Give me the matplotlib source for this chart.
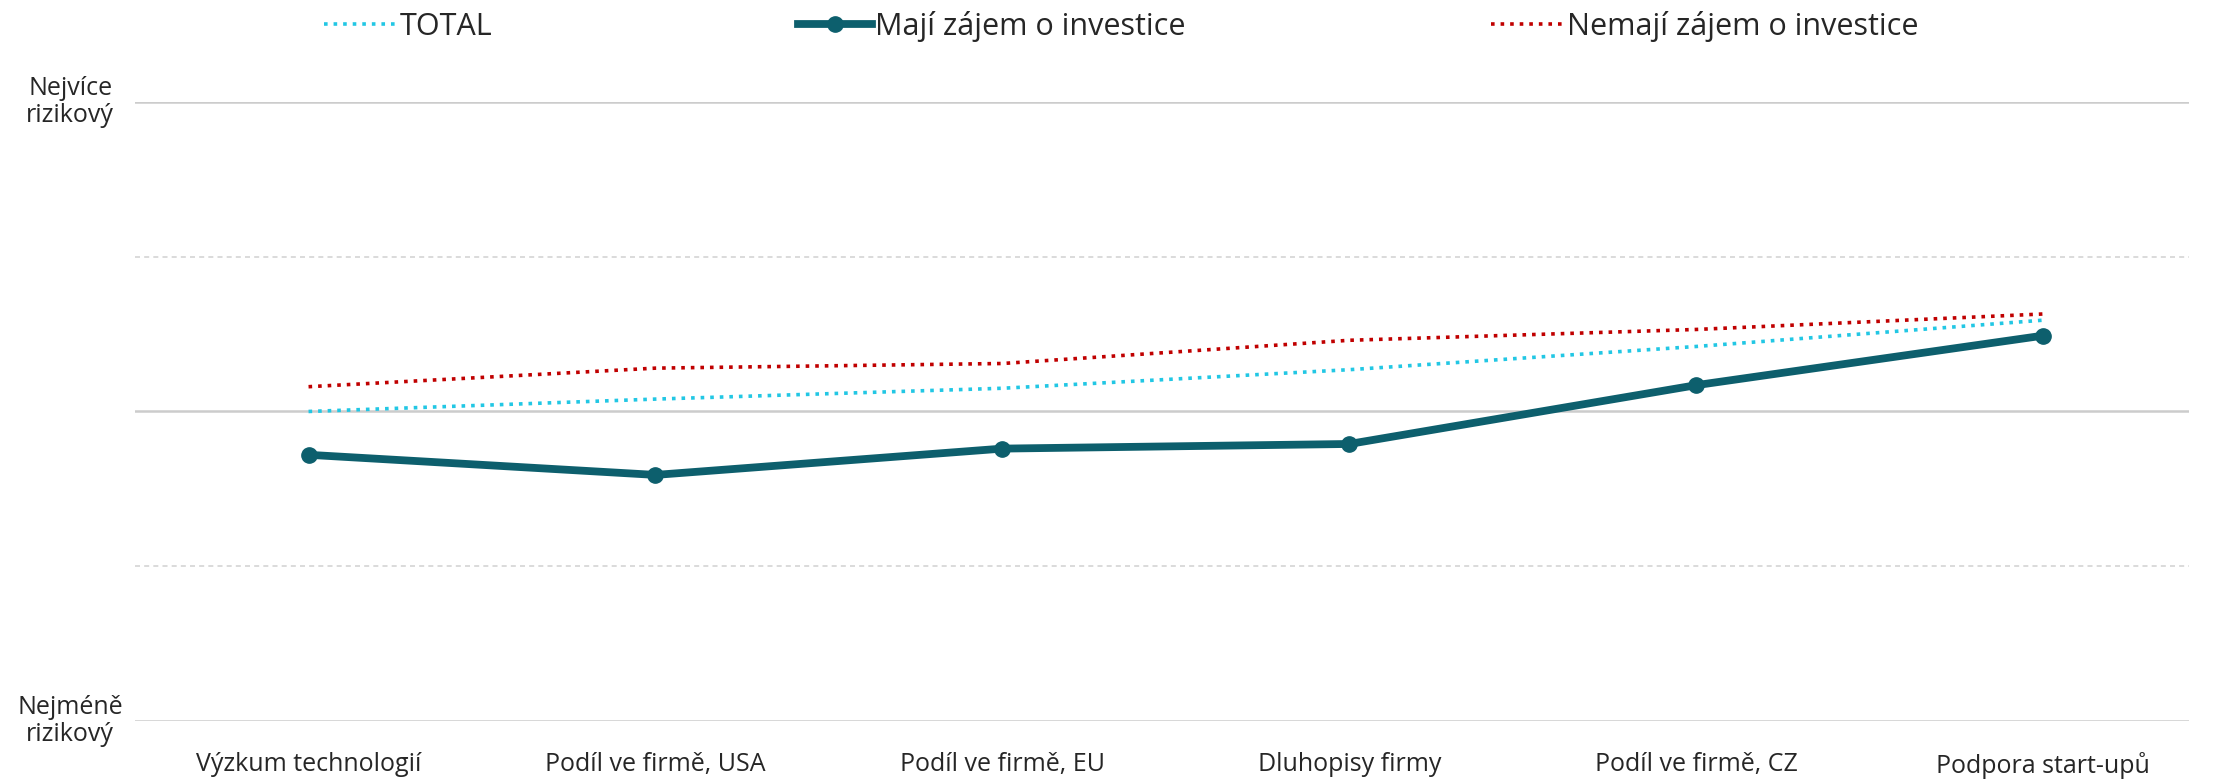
import matplotlib
matplotlib.use("Agg")
import matplotlib.pyplot as plt
import matplotlib.transforms as mtransforms

plt.rcParams['font.family'] = ['Open Sans', 'DejaVu Sans']

categories = ["Výzkum technologií", "Podíl ve firmě, USA", "Podíl ve firmě, EU",
              "Dluhopisy firmy", "Podíl ve firmě, CZ", "Podpora start-upů"]
total = [3.00, 3.08, 3.15, 3.27, 3.42, 3.59]
interested = [2.72, 2.59, 2.76, 2.79, 3.17, 3.49]
not_interested = [3.16, 3.28, 3.31, 3.46, 3.53, 3.63]

teal = "#0d5f6d"
cyan = "#22c7e4"
red = "#c00000"
text_col = "#262626"

fig = plt.figure(figsize=(22.29, 7.79), dpi=100)
ax = fig.add_axes([0.0606, 0.0745, 0.9214, 0.7946])

x = list(range(len(categories)))
ax.plot(x, total, color=cyan, lw=2.6, ls=":", label="TOTAL", zorder=3)
ax.plot(x, interested, color=teal, lw=5.6, marker="o", ms=11,
        label="Mají zájem o investice", zorder=4)
ax.plot(x, not_interested, color=red, lw=2.6, ls=":",
        label="Nemají zájem o investice", zorder=3)

ax.set_xlim(-0.5, 5.42)
ax.set_ylim(1, 5)

for y in [1, 3, 5]:
    ax.axhline(y, color="#cccccc", lw=1.8, zorder=1)
for y in [2, 4]:
    ax.axhline(y, color="#d4d4d4", lw=1.2, ls=(0, (3, 2.5)), zorder=1)

for s in ax.spines.values():
    s.set_visible(False)
ax.set_yticks([])
ax.set_xticks(x)
ax.set_xticklabels(categories, fontsize=18, color=text_col)
ax.tick_params(axis="x", length=0, pad=22)

trans = mtransforms.blended_transform_factory(fig.transFigure, ax.transData)
ax.text(0.0315, 5, "Nejvíce\nrizikový", transform=trans, ha="center", va="center",
        fontsize=18, color=text_col, linespacing=1.15)
ax.text(0.0315, 1, "Nejméně\nrizikový", transform=trans, ha="center", va="center",
        fontsize=18, color=text_col, linespacing=1.15)

fig.legend(loc="center", bbox_to_anchor=(0.503, 0.966), ncol=3, frameon=False,
           fontsize=22, handlelength=2.4, handletextpad=0.1, columnspacing=10,
           labelcolor=text_col)

fig.savefig("out.png", dpi=100)
